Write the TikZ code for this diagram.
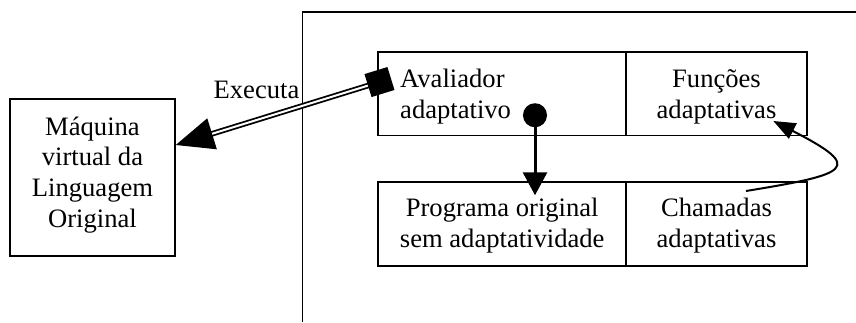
\documentclass[tikz,border=0pt]{standalone}
\usepackage{fontspec}
\setmainfont{Liberation Serif}
\usetikzlibrary{arrows.meta,calc}
\begin{document}
\begin{tikzpicture}[x=1pt,y=-1pt,
  box/.style={draw,line width=1.5pt,inner sep=0pt,minimum width=#1},
  txt/.style={inner sep=0pt,font=\fontsize{26.6}{30.6}\selectfont},
  frame/.style={line width=1.5pt}]
\useasboundingbox (0,0) rectangle (856,322);
% large frame (partially cropped)
\draw[frame] (302.5,322) -- (302.5,12) -- (856,12);
% boxes
\node[box=165, minimum height=157] (maq) at (92.5,177.5) {};
\node[box=248, minimum height=83.5] (av) at (502.2,93.5) {};
\node[box=180.5, minimum height=83.5] (fu) at (716.5,93.5) {};
\node[box=248, minimum height=84] (po) at (502.2,224) {};
\node[box=180.5, minimum height=84] (ch) at (716.5,224) {};
% texts (anchor base = baseline of last line)
\node[txt, align=center, anchor=base] (tmaq) at (92.5,227) {Máquina\\virtual da\\Linguagem\\Original};
\node[txt, align=left, anchor=base west] (tav) at (400,118) {Avaliador\\adaptativo};
\node[txt, align=center, anchor=base] (tfu) at (716.5,118.5) {Funções\\adaptativas};
\node[txt, align=center, anchor=base] (tpo) at (502.2,247) {Programa original\\sem adaptatividade};
\node[txt, align=center, anchor=base] (tch) at (716.5,247) {Chamadas\\adaptativas};
\node[txt, anchor=base] (lex) at (256.5,98) {Executa};
% connectors
\coordinate (sqs) at ($(av.west)+(13.5,-15)$);
\coordinate (tipm) at ($(maq.east)+(0,-32.5)$);
\draw[double, double distance=2pt, line width=1.8pt,
  {Square[length=24pt,width=24pt]}-{Triangle[length=38pt,width=32pt]}] (sqs) -- (tipm);
\coordinate (bs) at ($(po.north)+(32.8,-78)$);
\coordinate (bt) at ($(po.north)+(32.8,14)$);
\draw[line width=3pt, {Circle[length=24pt,width=24pt]}-{Triangle[length=23pt,width=24pt]}] (bs) -- (bt);
\coordinate (cs) at ($(ch.center)+(29.5,-33)$);
\coordinate (ct) at ($(fu.center)+(56.8,27.5)$);
\draw[line width=2pt, -{Triangle[length=22pt,width=17pt]}] (cs) .. controls (850,174) and (865,168) .. (ct);
\end{tikzpicture}
\end{document}
